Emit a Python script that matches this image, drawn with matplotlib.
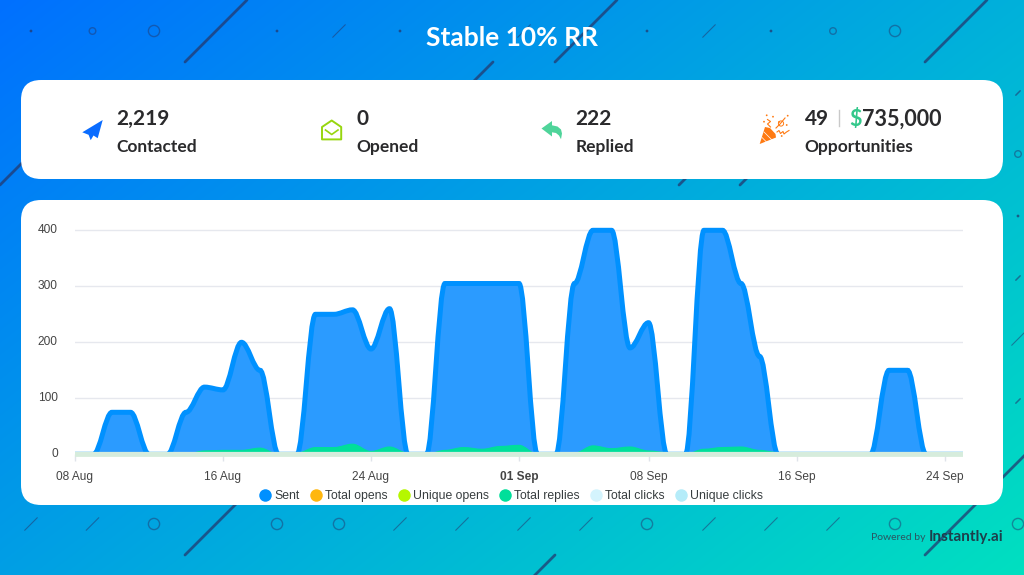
from matplotlib import pyplot as plt
from matplotlib.lines import Line2D
from matplotlib.patches import Circle, FancyBboxPatch, PathPatch, Polygon
from matplotlib.path import Path
from matplotlib.transforms import ScaledTranslation
import numpy as np

# daily values, 08 Aug to 25 Sep
days = np.arange(49)
sent = [0, 0, 75, 75, 0, 0, 75, 120, 115, 200, 150, 0, 0, 250, 250, 258, 188, 260, 0, 0,
        305, 305, 305, 305, 305, 0, 0, 305, 400, 400, 190, 235, 0, 0, 400, 400, 305, 175, 0,
        0, 0, 0, 0, 0, 150, 150, 0, 0, 0]
total_opens = [0] * 49
unique_opens = [0] * 49
total_replies = [0, 0, 0, 0, 0, 0, 0, 6, 7, 7, 11, 0, 2, 12, 12, 18, 5, 13, 2, 0,
                 7, 12, 9, 14, 16, 0, 0, 2, 15, 10, 13, 6, 3, 0, 9, 12, 13, 7, 3,
                 1, 0, 1, 3, 1, 3, 1, 0, 0, 0]
total_clicks = [0] * 49
unique_clicks = [0] * 49

series_names = ["Sent", "Total opens", "Unique opens", "Total replies", "Total clicks", "Unique clicks"]
legend_colors = ["#0090ff", "#ffb70f", "#b5f700", "#00df9a", "#d4f4fd", "#b5ecf9"]

tick_days = [0, 8, 16, 24, 31, 39, 47]
tick_labels = ["08 Aug", "16 Aug", "24 Aug", "01 Sep", "08 Sep", "16 Sep", "24 Sep"]
y_ticks = [0, 100, 200, 300, 400]

title = "Stable 10% RR"
stats = [(116.5, "2,219", "Contacted"), (356.5, "0", "Opened"), (575.5, "222", "Replied")]

W, H = 1024, 575
plt.rcParams["font.family"] = "Liberation Sans"


def curve(xs, ys):
    # same shape as the dashboard's smooth line: flat tangent at every point
    verts = [(xs[0], ys[0])]
    for i in range(len(xs) - 1):
        verts += [(xs[i] + 0.35, ys[i]), (xs[i + 1] - 0.35, ys[i + 1]), (xs[i + 1], ys[i + 1])]
    return verts


def draw_area(ax, ys, fill, stroke, lw, z, clip=False):
    verts = curve(days, ys)
    codes = [Path.MOVETO] + [Path.CURVE4] * (len(verts) - 1)
    closed = verts + [(days[-1], 0), (days[0], 0), (days[0], 0)]
    ccodes = codes + [Path.LINETO, Path.LINETO, Path.CLOSEPOLY]
    ax.add_patch(PathPatch(Path(closed, ccodes), fc=fill, ec="none", zorder=z))
    ax.add_patch(PathPatch(Path(verts, codes), fc="none", ec=stroke, lw=lw, zorder=z + 0.1,
                           clip_on=clip, capstyle="butt"))


fig = plt.figure(figsize=(W / 100, H / 100), dpi=100)

# background in pixel coordinates
bg = fig.add_axes([0, 0, 1, 1])
bg.set_xlim(0, W)
bg.set_ylim(H, 0)
bg.axis("off")

yy, xx = np.mgrid[0:H, 0:W]
t = 0.58 * xx / W + 0.42 * yy / H
grad = np.dstack([(0 + 0 * t), (112 + 112 * t) / 255, (255 - 63 * t) / 255])
bg.imshow(grad, extent=(0, W, H, 0), aspect="auto", zorder=0)
bg.set_xlim(0, W)
bg.set_ylim(H, 0)

navy = "#24396f"


def dot(x, y):
    bg.add_patch(Circle((x, y), 1.4, fc=navy, ec="none", alpha=0.75, zorder=1))


def ring(x, y, r):
    bg.add_patch(Circle((x, y), r, fc="none", ec=navy, lw=1.0, alpha=0.5, zorder=1))


def slash(x, y, half, lw, alpha):
    bg.plot([x - half, x + half], [y + half, y - half], color=navy, lw=lw, alpha=alpha,
            solid_capstyle="round", zorder=1)


for x in [31, 277, 400, 647, 771]:
    dot(x, 31)
dot(1018, 216)
for x, r in [(92.5, 3.3), (154, 5.6), (833, 3.3), (895, 5.6), (1018, 3.3)]:
    ring(x, 154 if x == 1018 else 31, r)
for x in [154, 277, 339, 647, 895, 1018]:
    ring(x, 524, 5.6)
for x, y in [(31, 524), (92.5, 524), (400, 524), (462, 524), (524, 524), (586, 524), (709, 524),
             (771, 524), (833, 524), (339, 31), (524, 31), (709, 31), (1018, 339)]:
    slash(x, y, 6.3, 0.8, 0.55)
for y in [93, 278, 401]:
    slash(1018, y, 2.2, 1.1, 0.6)
for x, y in [(216, 31), (586, 31), (956, 31), (462, 93), (31, 154), (710, 154), (771, 154),
             (216, 524), (956, 524), (1018, 462), (524, 586)]:
    slash(x, y, 31, 2.0, 0.75)

# white cards
for y, h in [(80, 99), (200, 305)]:
    bg.add_patch(FancyBboxPatch((21, y), 982, h, boxstyle="round,pad=0,rounding_size=20",
                                fc="white", ec="none", zorder=2))

bg.text(512, 38.5, title, color="white", fontsize=19, fontweight="bold", family="Lato",
        ha="center", va="center", zorder=3)

dark = "#2a2a2c"
for x, num, label in stats:
    bg.text(x, 119, num, color=dark, fontsize=15, fontweight="bold", family="Lato", ha="left", va="center", zorder=3)
    bg.text(x, 147, label, color=dark, fontsize=12.5, fontweight="bold", family="Lato", ha="left", va="center", zorder=3)
bg.text(805, 119, "49", color=dark, fontsize=15, fontweight="bold", family="Lato", ha="left", va="center", zorder=3)
bg.plot([839, 839], [110, 126], color="#c9c9c9", lw=1, zorder=3)
bg.text(849, 119, "$", color="#33c88b", fontsize=15.5, fontweight="bold", family="Lato", ha="left", va="center", zorder=3)
bg.text(862, 119, "735,000", color=dark, fontsize=15.5, fontweight="bold", family="Lato", ha="left", va="center", zorder=3)
bg.text(804.5, 147, "Opportunities", color=dark, fontsize=12.5, fontweight="bold", family="Lato", ha="left", va="center", zorder=3)

# icons
bg.add_patch(Polygon([(102.7, 120), (82.3, 132.3), (88.6, 134.8), (90.7, 140.2), (93.5, 135.5),
                      (97.7, 138.2)], fc="#0a6cff", ec="none", zorder=3))

bg.add_patch(Polygon([(322, 127), (331.7, 120.5), (341.2, 127), (341.2, 139.4), (322, 139.4)],
                     fc="none", ec="#97d60f", lw=1.4, joinstyle="round", zorder=3))
bg.plot([325.5, 331.7, 338], [130, 134.5, 130], color="#97d60f", lw=1.2, zorder=3)

bg.add_patch(Polygon([(541.5, 128.5), (552, 121), (552, 125.3), (557.5, 126.5), (561, 129.5), (562, 133.5),
                      (561, 139.2), (559, 135.5), (556, 133), (552, 132.3), (552, 136.5)],
                     fc="#4fd49a", ec="none", zorder=3))

orange = "#ff7a12"
bg.add_patch(Polygon([(759.7, 144), (765, 127), (770, 128), (775.5, 134), (776, 137.5)],
                     fc=orange, ec="none", zorder=3))
for a, b in [((764, 132), (772, 140)), ((762, 137.5), (767, 142.5))]:
    bg.plot([a[0], b[0]], [a[1], b[1]], color="white", lw=0.5, zorder=3)
for x, y in [(766.7, 115.3), (773, 116.7), (764, 121.7), (787.7, 115.7), (786.7, 125), (781.7, 136), (779, 122)]:
    bg.add_patch(Circle((x, y), 0.9, fc=orange, ec="none", zorder=3))
bg.plot([767.5, 770.5, 767.5, 770.5], [119.5, 121.5, 124, 127], color=orange, lw=0.8, zorder=3)
bg.plot([777, 779, 780.5, 783, 784, 786.5, 789], [132, 130.5, 133.5, 131.5, 134, 132, 130.5], color=orange, lw=0.8, zorder=3)
bg.add_patch(Circle((781, 123.5), 2.6, fc="none", ec=orange, lw=0.7, zorder=3))
bg.plot([776, 780, 785], [128, 124, 118], color=orange, lw=0.8, zorder=3)

bg.text(871, 538, "Powered by", color="#2b5560", fontsize=7.5, family="Lato", ha="left", va="center", zorder=3)
bg.text(929, 537, "Instantly.ai", color="#1d3f4b", fontsize=11, fontweight="bold", family="Lato", ha="left", va="center", zorder=3)

# chart, 18.5 px per day and 56 px per 100 sent
y_base, y_top = 454.3, 214.3
ax = fig.add_axes([75 / W, 1 - y_base / H, 888 / W, (y_base - y_top) / H])
ax.patch.set_alpha(0)
ax.set_xlim(0, 48)
ax.set_ylim(0, (y_base - y_top) / 0.56)
for s in ax.spines.values():
    s.set_visible(False)

ax.set_yticks(y_ticks)
ax.grid(axis="y", color="#e6e8ee", lw=1)
ax.set_axisbelow(True)
ax.tick_params(axis="y", length=0, pad=12.5, labelsize=8.6, labelcolor="#444444")
ax.set_xticks(tick_days)
ax.set_xticklabels(tick_labels)
ax.tick_params(axis="x", length=5, width=1, color="#dfe3ea", pad=7, labelsize=8.6, labelcolor="#444444")
ax.get_xticklabels()[3].set_fontweight("bold")
shift = ScaledTranslation(0, 2 / 100, fig.dpi_scale_trans)
for lab in ax.get_yticklabels():
    lab.set_transform(lab.get_transform() + shift)

draw_area(ax, sent, "#2b9bff", "#0091ff", 3.6, 3, clip=True)
draw_area(ax, total_opens, "none", "#ffb70f", 0.5, 4)
draw_area(ax, unique_opens, "none", "#b5f700", 0.5, 4.2)
draw_area(ax, total_replies, "#00df9a", "#00df9a", 0.8, 4.4)
draw_area(ax, total_clicks, "none", "#d6ecdc", 3.4, 4.6)
draw_area(ax, unique_clicks, "none", "#d6ecdc", 3.4, 4.8)

handles = [Line2D([], [], ls="none", marker="o", ms=9, mfc=c, mec="none") for c in legend_colors]
fig.legend(handles, series_names, loc="center", bbox_to_anchor=(512 / W, 1 - 496 / H), ncol=6, frameon=False,
           fontsize=8.8, labelcolor="#373d3f", handlelength=0.7, handletextpad=0.38, columnspacing=1.0,
           borderpad=0)

fig.savefig("out.png", dpi=100)
